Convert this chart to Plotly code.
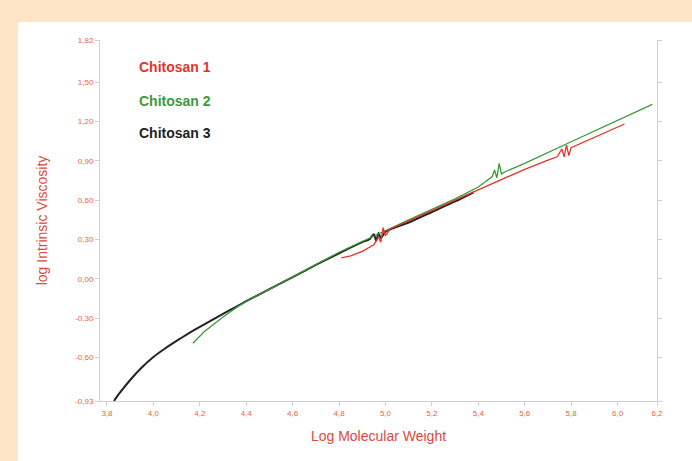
import plotly.graph_objects as go

# Chitosan 3 (black)
c3_x = [3.83, 3.85, 3.9, 3.95, 4.0, 4.05, 4.1, 4.15, 4.2, 4.25, 4.3, 4.35, 4.4, 4.5, 4.6, 4.7, 4.8, 4.9, 4.93, 4.95, 4.96, 4.97, 4.98, 5.0, 5.1, 5.2, 5.3, 5.38]
c3_y = [-0.93, -0.88, -0.77, -0.675, -0.595, -0.53, -0.472, -0.417, -0.365, -0.315, -0.266, -0.218, -0.17, -0.078, 0.013, 0.107, 0.195, 0.28, 0.30, 0.34, 0.29, 0.35, 0.31, 0.36, 0.43, 0.51, 0.59, 0.66]

# Chitosan 2 (green)
c2_x = [4.17, 4.22, 4.3, 4.36, 4.4, 4.5, 4.6, 4.7, 4.8, 4.9, 5.0, 5.1, 5.2, 5.3, 5.4, 5.44, 5.46, 5.47, 5.48, 5.49, 5.5, 5.52, 5.6, 5.8, 6.0, 6.15]
c2_y = [-0.49, -0.40, -0.29, -0.215, -0.172, -0.077, 0.017, 0.112, 0.203, 0.285, 0.37, 0.45, 0.53, 0.61, 0.70, 0.75, 0.78, 0.83, 0.77, 0.88, 0.80, 0.82, 0.88, 1.045, 1.205, 1.33]

# Chitosan 1 (red)
c1_x = [4.81, 4.85, 4.9, 4.95, 4.97, 4.98, 4.99, 5.0, 5.02, 5.1, 5.2, 5.3, 5.4, 5.5, 5.6, 5.7, 5.74, 5.76, 5.77, 5.78, 5.79, 5.80, 5.9, 6.03]
c1_y = [0.16, 0.175, 0.21, 0.26, 0.32, 0.28, 0.39, 0.33, 0.38, 0.44, 0.52, 0.60, 0.68, 0.76, 0.835, 0.905, 0.93, 0.99, 0.93, 1.02, 0.94, 1.0, 1.08, 1.18]

series_names = ["Chitosan 1", "Chitosan 2", "Chitosan 3"]
series_colors = ["#e3342c", "#3a9a3a", "#222222"]

x_tickvals = [3.8, 4.0, 4.2, 4.4, 4.6, 4.8, 5.0, 5.2, 5.4, 5.6, 5.8, 6.0, 6.17]
x_ticktext = ["3,8", "4,0", "4,2", "4,4", "4,6", "4,8", "5,0", "5,2", "5,4", "5,6", "5,8", "6,0", "6,2"]
y_tickvals = [-0.93, -0.6, -0.3, 0.0, 0.3, 0.6, 0.9, 1.2, 1.5, 1.82]
y_ticktext = ["-0,93", "-0,60", "-0,30", "0,00", "0,30", "0,60", "0,90", "1,20", "1,50", "1,82"]

fig = go.Figure()
fig.add_trace(go.Scatter(x=c3_x, y=c3_y, mode="lines", line=dict(color=series_colors[2], width=2, shape="spline", smoothing=0.6), name=series_names[2]))
fig.add_trace(go.Scatter(x=c2_x, y=c2_y, mode="lines", line=dict(color=series_colors[1], width=1.3), name=series_names[1]))
fig.add_trace(go.Scatter(x=c1_x, y=c1_y, mode="lines", line=dict(color=series_colors[0], width=1.3), name=series_names[0]))

label_y = [0.925, 0.831, 0.742]
for name, col, ly in zip(series_names, series_colors, label_y):
    fig.add_annotation(x=0.066, y=ly, xref="paper", yref="paper", text="<b>" + name + "</b>",
                       showarrow=False, xanchor="left", yanchor="middle",
                       font=dict(family="Liberation Sans, Arial", size=14, color=col))

fig.add_shape(type="rect", xref="paper", yref="paper", x0=-0.147, x1=1.2, y0=-0.3, y1=1.05,
              fillcolor="white", line=dict(width=0), layer="below")

tick_font = dict(family="Liberation Sans, Arial", size=8, color="#e8643c")
fig.update_xaxes(range=[3.77, 6.17], tickvals=x_tickvals, ticktext=x_ticktext, tickfont=tick_font,
                 showgrid=False, zeroline=False, showline=True, linecolor="#d0d0d0", linewidth=1,
                 ticks="outside", ticklen=4, tickcolor="#d0d0d0", automargin=False,
                 title=dict(text="Log Molecular Weight", font=dict(family="Liberation Sans, Arial", size=14, color="#dc4a3a"), standoff=14))
fig.update_yaxes(range=[-0.93, 1.82], tickvals=y_tickvals, ticktext=y_ticktext, tickfont=tick_font,
                 showgrid=False, zeroline=False, showline=True, linecolor="#d0d0d0", linewidth=1, mirror="ticks",
                 ticks="outside", ticklen=4, tickcolor="#d0d0d0", automargin=False,
                 title=dict(text="log Intrinsic Viscosity", font=dict(family="Liberation Sans, Arial", size=14, color="#dc4a3a"), standoff=24))

fig.update_layout(width=692, height=461, showlegend=False,
                  margin=dict(l=100, r=35, t=40, b=60),
                  paper_bgcolor="#fde5c6", plot_bgcolor="white")
fig.write_html("out.html", config={"displayModeBar": False},
               post_script="document.body.style.margin='0';document.body.style.background='#fde5c6';")
